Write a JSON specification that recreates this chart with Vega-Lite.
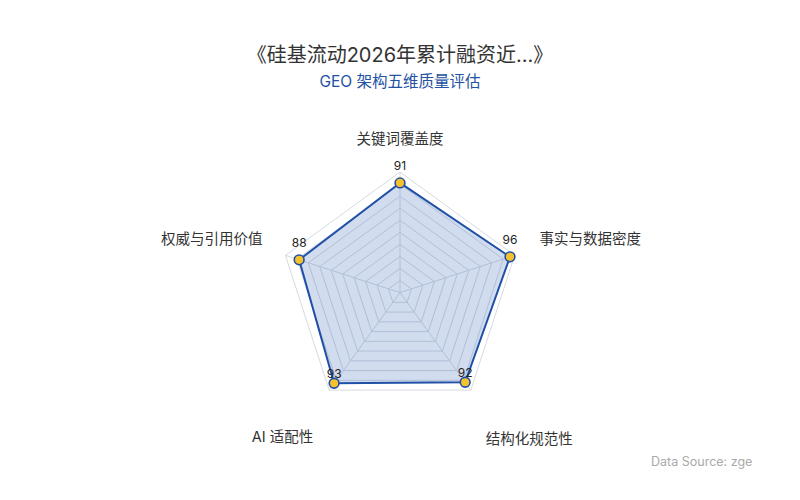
{
  "$schema": "https://vega.github.io/schema/vega-lite/v6.json",
  "autosize": "none",
  "width": 800,
  "height": 400,
  "padding": {"top": 100, "left": 0, "right": 0, "bottom": 0},
  "background": "#ffffff",
  "config": {
    "font": "Inter, Noto Sans CJK SC, sans-serif",
    "view": {"stroke": null},
    "title": {"font": "Inter, Noto Sans CJK SC", "fontSize": 20, "fontWeight": "normal", "color": "#333333", "subtitleFont": "Inter, Noto Sans CJK SC", "subtitleFontSize": 15.5, "subtitleColor": "#2351a3", "subtitlePadding": 9, "offset": 10}
  },
  "title": {"text": "《硅基流动2026年累计融资近...》", "subtitle": "GEO 架构五维质量评估", "anchor": "middle"},
  "datasets": {
    "scores": [
      {"dim": "关键词覆盖度", "score": 91, "k": 0},
      {"dim": "事实与数据密度", "score": 96, "k": 1},
      {"dim": "结构化规范性", "score": 92, "k": 2},
      {"dim": "AI 适配性", "score": 93, "k": 3},
      {"dim": "权威与引用价值", "score": 88, "k": 4}
    ],
    "levels": [
      {"level": 10}, {"level": 20}, {"level": 30}, {"level": 40}, {"level": 50},
      {"level": 60}, {"level": 70}, {"level": 80}, {"level": 90}, {"level": 100}
    ]
  },
  "data": {"name": "scores"},
  "transform": [
    {"calculate": "datum.k * 2 * PI / 5", "as": "ang"},
    {"calculate": "datum.score * sin(datum.ang)", "as": "px"},
    {"calculate": "datum.score * cos(datum.ang)", "as": "py"},
    {"calculate": "100 * sin(datum.ang)", "as": "vx"},
    {"calculate": "100 * cos(datum.ang)", "as": "vy"}
  ],
  "encoding": {
    "x": {"field": "px", "type": "quantitative", "scale": {"domain": [-331.95, 331.95], "nice": false, "zero": false}, "axis": null},
    "y": {"field": "py", "type": "quantitative", "scale": {"domain": [-172.12, 159.83], "nice": false, "zero": false}, "axis": null}
  },
  "layer": [
    {
      "data": {"name": "levels"},
      "transform": [
        {"calculate": "[0, 1, 2, 3, 4]", "as": "k"},
        {"flatten": ["k"]},
        {"calculate": "datum.level * sin(datum.k * 2 * PI / 5)", "as": "px"},
        {"calculate": "datum.level * cos(datum.k * 2 * PI / 5)", "as": "py"}
      ],
      "mark": {"type": "line", "interpolate": "linear-closed", "stroke": "#d6dae2", "strokeWidth": 1},
      "encoding": {
        "detail": {"field": "level"},
        "order": {"field": "k", "type": "quantitative"}
      }
    },
    {
      "mark": {"type": "rule", "stroke": "#d6dae2", "strokeWidth": 1},
      "encoding": {
        "x": {"field": "vx", "type": "quantitative"},
        "y": {"field": "vy", "type": "quantitative"},
        "x2": {"datum": 0},
        "y2": {"datum": 0}
      }
    },
    {
      "mark": {"type": "line", "interpolate": "linear-closed", "fill": "#2c5fb8", "fillOpacity": 0.22, "stroke": "#1f4fa6", "strokeWidth": 2},
      "encoding": {"order": {"field": "k", "type": "quantitative"}}
    },
    {
      "mark": {"type": "point", "filled": true, "fill": "#f5c12e", "fillOpacity": 1, "stroke": "#1f4fa6", "strokeWidth": 1.6, "size": 95, "opacity": 1}
    },
    {
      "transform": [{"filter": "datum.k == 0 || datum.k == 1 || datum.k == 4"}],
      "mark": {"type": "text", "dy": -17, "fontSize": 12, "fill": "#222222"},
      "encoding": {"text": {"field": "score"}}
    },
    {
      "transform": [{"filter": "datum.k == 2 || datum.k == 3"}],
      "mark": {"type": "text", "dy": -9, "fontSize": 12, "fill": "#222222"},
      "encoding": {"text": {"field": "score"}}
    },
    {
      "transform": [{"filter": "datum.k == 0"}],
      "mark": {"type": "text", "align": "center", "baseline": "middle", "dy": -32, "fontSize": 14.5, "fill": "#333333"},
      "encoding": {"x": {"field": "vx", "type": "quantitative"}, "y": {"field": "vy", "type": "quantitative"}, "text": {"field": "dim"}}
    },
    {
      "transform": [{"filter": "datum.k == 1"}],
      "mark": {"type": "text", "align": "left", "baseline": "middle", "dx": 25, "dy": -15, "fontSize": 14.5, "fill": "#333333"},
      "encoding": {"x": {"field": "vx", "type": "quantitative"}, "y": {"field": "vy", "type": "quantitative"}, "text": {"field": "dim"}}
    },
    {
      "transform": [{"filter": "datum.k == 2"}],
      "mark": {"type": "text", "align": "left", "baseline": "middle", "dx": 15, "dy": 50, "fontSize": 14.5, "fill": "#333333"},
      "encoding": {"x": {"field": "vx", "type": "quantitative"}, "y": {"field": "vy", "type": "quantitative"}, "text": {"field": "dim"}}
    },
    {
      "transform": [{"filter": "datum.k == 3"}],
      "mark": {"type": "text", "align": "right", "baseline": "middle", "dx": -16, "dy": 48, "fontSize": 14.5, "fill": "#333333"},
      "encoding": {"x": {"field": "vx", "type": "quantitative"}, "y": {"field": "vy", "type": "quantitative"}, "text": {"field": "dim"}}
    },
    {
      "transform": [{"filter": "datum.k == 4"}],
      "mark": {"type": "text", "align": "right", "baseline": "middle", "dx": -23, "dy": -15, "fontSize": 14.5, "fill": "#333333"},
      "encoding": {"x": {"field": "vx", "type": "quantitative"}, "y": {"field": "vy", "type": "quantitative"}, "text": {"field": "dim"}}
    },
    {
      "transform": [{"filter": "datum.k == 0"}],
      "mark": {"type": "text", "align": "left", "baseline": "middle", "fontSize": 12.5, "fill": "#aaaaaa"},
      "encoding": {"x": {"datum": 208.3, "type": "quantitative"}, "y": {"datum": -140.6, "type": "quantitative"}, "text": {"value": "Data Source: zge"}}
    }
  ]
}
